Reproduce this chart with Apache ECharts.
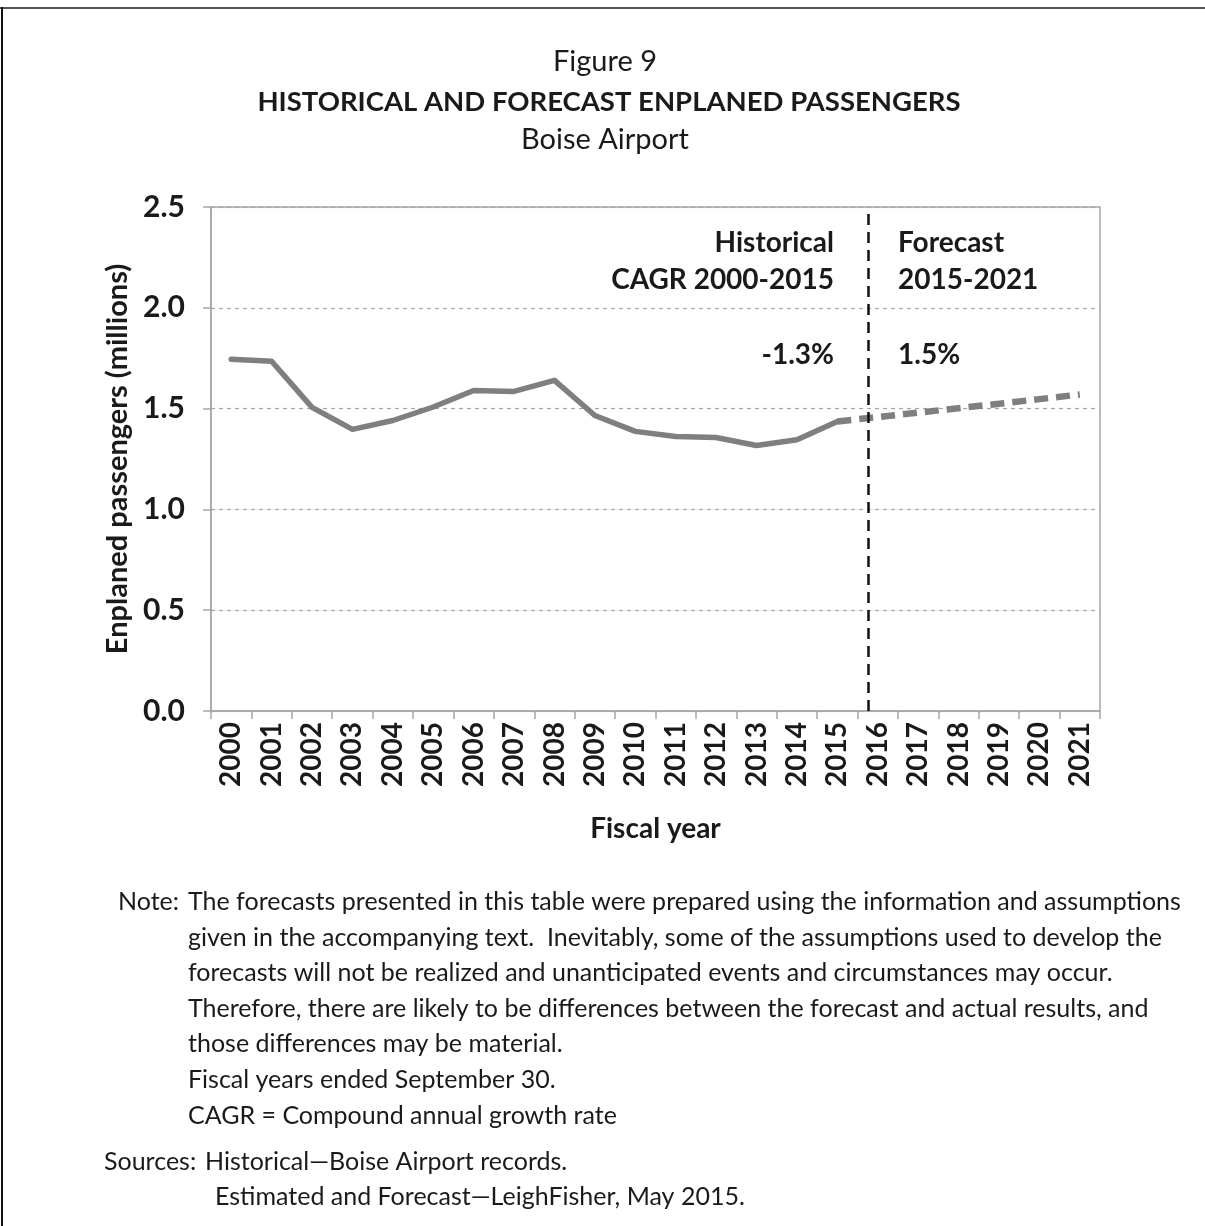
<!DOCTYPE html>
<html>
<head>
<meta charset="utf-8">
<script src="https://cdn.jsdelivr.net/npm/echarts@6/dist/echarts.min.js"></script>
<style>
  html, body { margin: 0; padding: 0; background: #fff; }
  #chart { width: 1205px; height: 1226px; }
</style>
</head>
<body>
<div id="chart"></div>
<script>
// Fiscal years shown on the category axis
const years = ['2000','2001','2002','2003','2004','2005','2006','2007','2008','2009','2010',
               '2011','2012','2013','2014','2015','2016','2017','2018','2019','2020','2021'];

// Historical enplaned passengers (millions), FY2000-FY2015
const historical = [1.745, 1.735, 1.506, 1.397, 1.441, 1.508, 1.590, 1.585, 1.640, 1.466, 1.387,
                    1.362, 1.357, 1.317, 1.345, 1.436];

// Forecast enplaned passengers (millions), FY2015-FY2021
const forecast = [1.436, 1.458, 1.480, 1.502, 1.524, 1.547, 1.570];

// Y-axis range and step
const yTicks = { min: 0, max: 2.5, interval: 0.5 };

// Position of the historical/forecast divider in category index units
const dividerAt = 15.77;

// Annotation text
const cagrLeft = ['Historical', 'CAGR 2000-2015', '-1.3%'];
const cagrRight = ['Forecast', '2015-2021', '1.5%'];

const noteLines = [
  'The forecasts presented in this table were prepared using the information and assumptions',
  'given in the accompanying text.  Inevitably, some of the assumptions used to develop the',
  'forecasts will not be realized and unanticipated events and circumstances may occur.',
  'Therefore, there are likely to be differences between the forecast and actual results, and',
  'those differences may be material.',
  'Fiscal years ended September 30.',
  'CAGR = Compound annual growth rate'
];
const sourceLines = [
  'Historical\u2014Boise Airport records.',
  'Estimated and Forecast\u2014LeighFisher, May 2015.'
];

const FONT = 'Lato, "Open Sans", sans-serif';
const INK = '#1a1a1a';

const historicalSeries = historical.concat(new Array(years.length - historical.length).fill(null));
const forecastSeries = new Array(years.length - forecast.length).fill(null).concat(forecast);

// text anchored at (x, y) with its vertical middle on y
function textAt(x, y, str, font, align) {
  return {
    type: 'text', silent: true,
    style: { x: x, y: y, text: str, fill: INK, font: font,
             align: align || 'left', verticalAlign: 'middle' }
  };
}

const BODY = '25px ' + FONT;
const ANN = 'bold 28px ' + FONT;

const graphics = [
  // page frame
  { type: 'rect', shape: { x: 0, y: 7, width: 1205, height: 2 }, style: { fill: '#555' }, silent: true },
  { type: 'rect', shape: { x: 1, y: 7, width: 2, height: 1219 }, style: { fill: '#111' }, silent: true },
  // headings
  textAt(605, 62, 'Figure 9', '29px ' + FONT, 'center'),
  textAt(609, 102, 'HISTORICAL AND FORECAST ENPLANED PASSENGERS', 'bold 27.5px ' + FONT, 'center'),
  textAt(605, 140, 'Boise Airport', '29px ' + FONT, 'center')
];

// CAGR annotations
const annY = [243, 280, 355];
cagrLeft.forEach((s, i) => graphics.push(textAt(834, annY[i], s, ANN, 'right')));
cagrRight.forEach((s, i) => graphics.push(textAt(898, annY[i], s, ANN, 'left')));

// Notes and sources
graphics.push(textAt(118, 902, 'Note:', BODY));
noteLines.forEach((s, i) => graphics.push(textAt(188, 902 + i * 35.6, s, BODY)));
graphics.push(textAt(104, 1162, 'Sources:', BODY));
graphics.push(textAt(205, 1162, sourceLines[0], BODY));
graphics.push(textAt(215, 1197, sourceLines[1], BODY));

const chart = echarts.init(document.getElementById('chart'), null, { renderer: 'canvas' });

chart.setOption({
  animation: false,
  backgroundColor: '#fff',
  grid: {
    left: 211, right: 105, top: 207, bottom: 515,
    show: true, borderColor: '#a6a6a6', borderWidth: 1.5, backgroundColor: 'transparent'
  },
  xAxis: [
    {
      type: 'category',
      data: years,
      boundaryGap: true,
      name: 'Fiscal year',
      nameLocation: 'middle',
      nameGap: 104,
      nameTextStyle: { fontFamily: FONT, fontWeight: 'bold', fontSize: 28, color: INK },
      axisLine: { lineStyle: { color: '#a6a6a6', width: 1.5 } },
      axisTick: { show: true, inside: false, length: 8, alignWithLabel: false,
                  lineStyle: { color: '#a6a6a6', width: 1.5 } },
      axisLabel: { rotate: 90, margin: 11, fontFamily: FONT, fontWeight: 'bold',
                   fontSize: 28, color: INK, interval: 0 },
      splitLine: { show: false }
    },
    {
      // index-scaled axis used to place the divider between categories
      type: 'value',
      min: -0.5, max: years.length - 0.5,
      show: false
    }
  ],
  yAxis: {
    type: 'value',
    min: yTicks.min, max: yTicks.max, interval: yTicks.interval,
    name: 'Enplaned passengers (millions)',
    nameLocation: 'middle',
    nameGap: 76,
    nameRotate: 90,
    nameTextStyle: { fontFamily: FONT, fontWeight: 'bold', fontSize: 29, color: INK },
    axisLine: { show: true, onZero: false, lineStyle: { color: '#a6a6a6', width: 1.5 } },
    axisTick: { show: true, length: 8, lineStyle: { color: '#a6a6a6', width: 1.5 } },
    axisLabel: { margin: 26, fontFamily: FONT, fontWeight: 'bold', fontSize: 30, color: INK,
                 formatter: v => v.toFixed(1) },
    splitLine: { show: true, lineStyle: { color: '#a6a6a6', type: [4, 4], width: 1.2 } }
  },
  series: [
    {
      name: 'Historical',
      type: 'line',
      data: historicalSeries,
      symbol: 'none',
      lineStyle: { color: '#7f7f7f', width: 5.5, cap: 'round', join: 'round' },
      z: 3
    },
    {
      name: 'Forecast',
      type: 'line',
      data: forecastSeries,
      symbol: 'none',
      lineStyle: { color: '#7f7f7f', width: 6.5, type: [14, 8] },
      z: 3
    },
    {
      name: 'Divider',
      type: 'line',
      xAxisIndex: 1,
      data: [],
      markLine: {
        silent: true,
        symbol: ['none', 'none'],
        label: { show: false },
        lineStyle: { color: '#111', width: 2.5, type: [11, 7] },
        data: [{ xAxis: dividerAt }]
      },
      z: 4
    }
  ],
  graphic: graphics
});
</script>
</body>
</html>
